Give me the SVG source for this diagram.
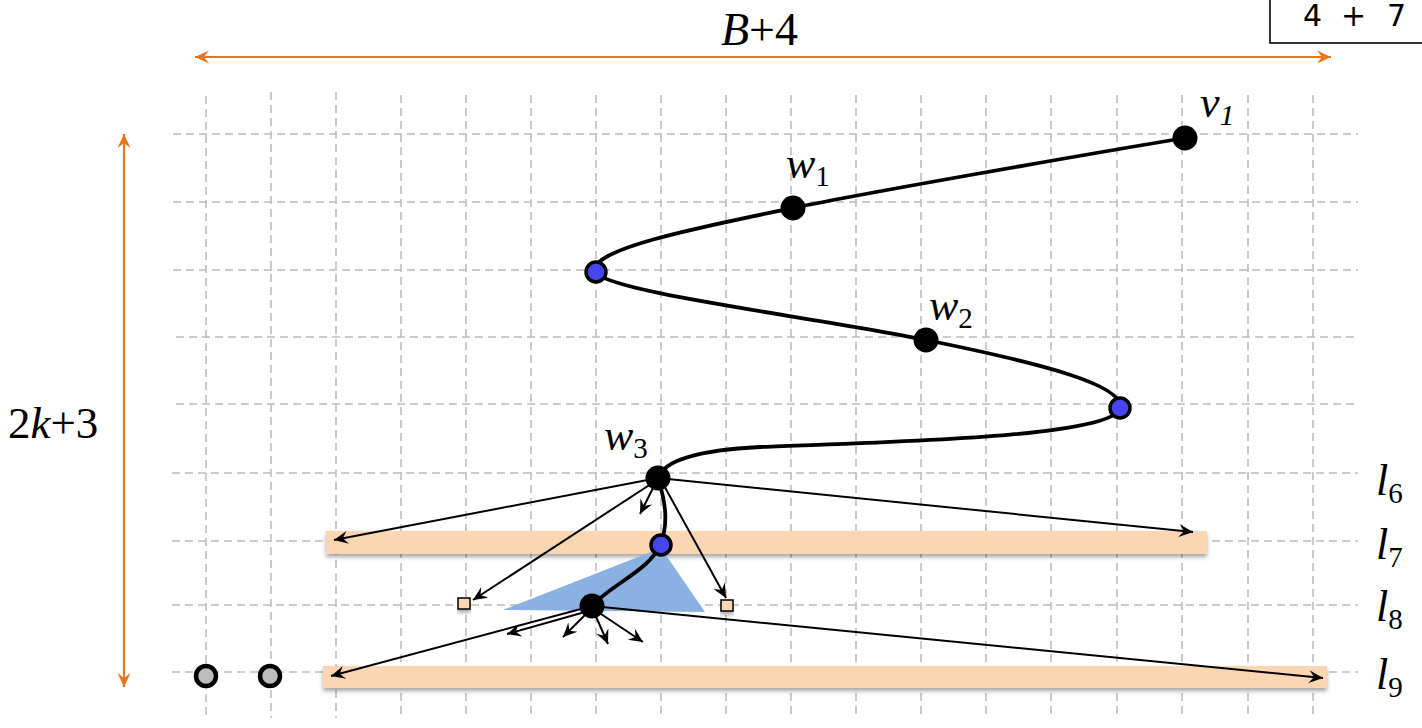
<svg xmlns="http://www.w3.org/2000/svg" width="1422" height="728" viewBox="0 0 1422 728">
<style>
.grid{stroke:#bdbdbd;stroke-width:1.6;stroke-dasharray:8 5;fill:none}
.bar{fill:#fbd6b2;filter:url(#sh)}
.arr{stroke:#000;stroke-width:2;fill:none;marker-end:url(#ah)}
.dim{stroke:#e8761f;stroke-width:2.2;fill:none;marker-start:url(#oh);marker-end:url(#oh)}
.curve{stroke:#000;stroke-width:3.8;fill:none}
.bk{fill:#000}
.bl{fill:#4646f0;stroke:#000;stroke-width:3.5}
.gr{fill:#bdbdbd;stroke:#000;stroke-width:4.5}
.sq{fill:#fbd6b2;stroke:#000;stroke-width:1.5;filter:url(#sh)}
.m{font-family:"Liberation Serif","Times New Roman",serif;fill:#000}
.i{font-style:italic}
.box{font-family:"DejaVu Sans",sans-serif;font-size:30px;fill:#000}
</style>
<defs>
<filter id="sh" x="-5%" y="-50%" width="110%" height="200%">
<feDropShadow dx="0" dy="3" stdDeviation="2" flood-color="#000" flood-opacity="0.35"/>
</filter>
<marker id="ah" markerUnits="userSpaceOnUse" markerWidth="20" markerHeight="16" viewBox="-16 -8 20 16" refX="0" refY="0" orient="auto">
<path d="M0,0 L-14,-6.5 L-9,0 L-14,6.5 Z" fill="#000"/>
</marker>
<marker id="oh" markerUnits="userSpaceOnUse" markerWidth="20" markerHeight="16" viewBox="-16 -8 20 16" refX="0" refY="0" orient="auto-start-reverse">
<path d="M0,0 L-14,-6.5 L-9,0 L-14,6.5 Z" fill="#e8761f"/>
</marker>
</defs>

<g id="grid">
<path class="grid" d="M206,96V718 M271,92V718 M336,92V718 M401,95V718 M466,95V718 M531,95V718 M596,95V718 M661,95V718 M726,95V718 M791,95V718 M856,95V718 M921,95V718 M986,95V718 M1051,95V718 M1117,95V718 M1182,95V718 M1248,95V718 M1313,95V718"/>
<path class="grid" d="M173,134H1358 M173,202H1358 M173,270H1358 M176,337H1358 M176,404H1358 M172,473H1358 M172,541H1358 M172,605H1358 M172,672H1358"/>
</g>

<g id="box">
<rect x="1270" y="-10" width="170" height="53" fill="#fff" stroke="#000" stroke-width="1.6"/>
<text class="box" x="1303" y="26">4</text>
<text class="box" x="1341" y="26">+</text>
<text class="box" x="1387" y="26">7</text>
</g>

<g id="dimensions">
<path class="dim" d="M195,57H1331"/>
<path class="dim" d="M124,134V687"/>
<text class="m" x="721" y="45" font-size="46"><tspan class="i">B</tspan>+4</text>
<text class="m" x="8" y="438" font-size="45">2<tspan class="i">k</tspan>+3</text>
</g>

<g id="bars">
<rect id="bar-l7" class="bar" x="326" y="531" width="881" height="23"/>
<rect id="bar-l9" class="bar" x="323" y="666" width="1004" height="22"/>
</g>

<polygon id="cone" points="661,548 503,610 705,612" fill="#8ab1e2"/>

<g id="connectors">
<path class="arr" d="M658,478 L334,540"/>
<path class="arr" d="M658,478 L1193,532"/>
<path class="arr" d="M656,482 L640,514"/>
<path class="arr" d="M654,482 L473,600"/>
<path class="arr" d="M662,482 L726,598"/>
<path class="arr" d="M592,606 L331,676"/>
<path class="arr" d="M592,606 L1323,678"/>
<path class="arr" d="M585,612 L507,634"/>
<path class="arr" d="M588,612 L563,637"/>
<path class="arr" d="M594,612 L608,644"/>
<path class="arr" d="M598,612 L643,642"/>
<path class="curve" d="M1185,138 C1100,152 870,192 793,208 C700,227 585,250 596,272 C605,292 820,318 926,340 C1040,363 1125,385 1120,408 C1113,438 880,442 760,447 C700,450 664,460 658,478 C664,497 670,522 660,545 C650,570 610,585 592,606"/>
</g>

<g id="nodes">
<circle id="v1" class="bk" cx="1185" cy="138" r="12.5"/>
<circle id="w1" class="bk" cx="793" cy="208" r="12.5"/>
<circle id="b1" class="bl" cx="596" cy="272" r="10"/>
<circle id="w2" class="bk" cx="926" cy="340" r="12.5"/>
<circle id="b2" class="bl" cx="1120" cy="408" r="10"/>
<circle id="w3" class="bk" cx="658" cy="478" r="12.5"/>
<circle id="b3" class="bl" cx="661" cy="545" r="10"/>
<circle id="u" class="bk" cx="592" cy="606" r="12.5"/>
<circle id="g1" class="gr" cx="206" cy="676" r="10"/>
<circle id="g2" class="gr" cx="270" cy="676" r="10"/>
<rect id="s1" class="sq" x="458" y="598" width="12" height="11"/>
<rect id="s2" class="sq" x="721" y="600" width="12" height="11"/>
</g>

<g id="labels">
<text class="m" x="1200" y="117" font-size="44"><tspan class="i">v</tspan><tspan class="i" font-size="30" dy="8">1</tspan></text>
<text class="m" x="786" y="178" font-size="44"><tspan class="i">w</tspan><tspan font-size="29" dy="8">1</tspan></text>
<text class="m" x="929" y="320" font-size="44"><tspan class="i">w</tspan><tspan font-size="29" dy="8">2</tspan></text>
<text class="m" x="604" y="450" font-size="44"><tspan class="i">w</tspan><tspan font-size="29" dy="8">3</tspan></text>
<text class="m" x="1376" y="495" font-size="44"><tspan class="i">l</tspan><tspan font-size="29" dy="8">6</tspan></text>
<text class="m" x="1376" y="559" font-size="44"><tspan class="i">l</tspan><tspan font-size="29" dy="8">7</tspan></text>
<text class="m" x="1376" y="621" font-size="44"><tspan class="i">l</tspan><tspan font-size="29" dy="8">8</tspan></text>
<text class="m" x="1376" y="689" font-size="44"><tspan class="i">l</tspan><tspan font-size="29" dy="8">9</tspan></text>
</g>
</svg>
